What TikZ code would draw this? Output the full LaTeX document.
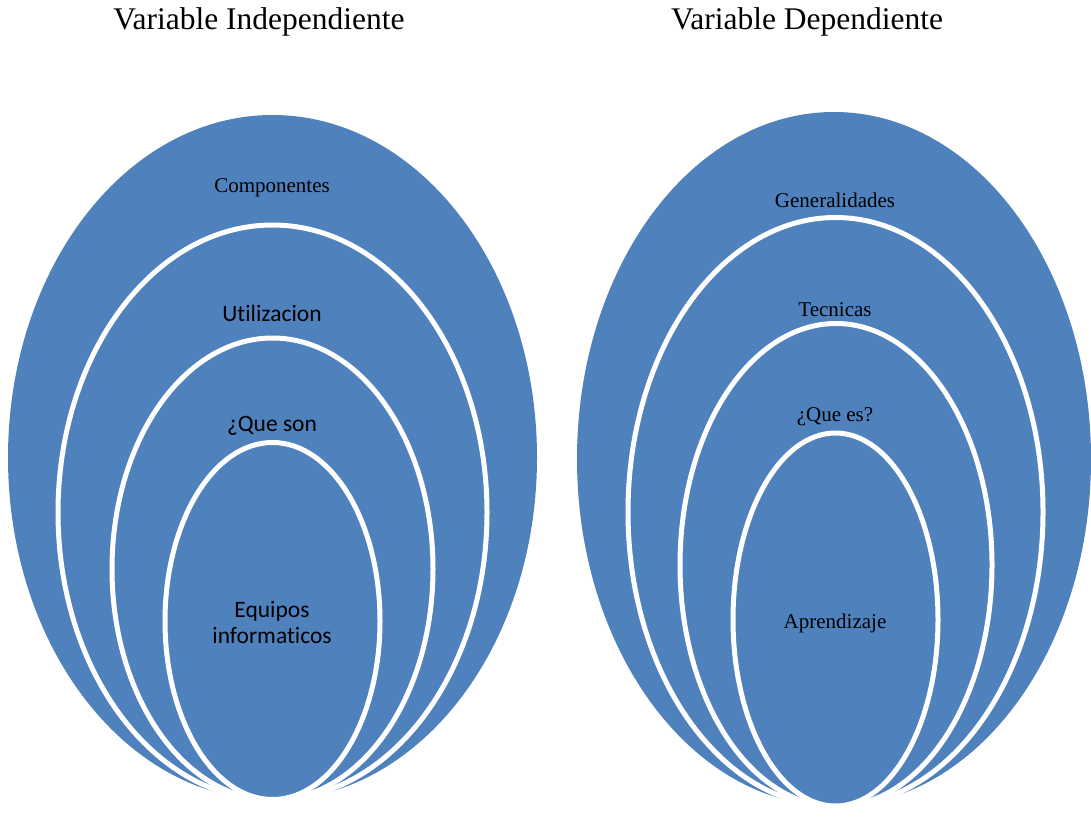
\documentclass[tikz,border=0pt]{standalone}
\usepackage{fontspec}
\setmainfont{Liberation Serif}
\newfontfamily\calibri[Ligatures=NoCommon]{Carlito}
\usetikzlibrary{shapes.geometric}
\definecolor{ovalblue}{HTML}{4F81BD}
\tikzset{
  ring/.style={ellipse, fill=ovalblue, draw=white, line width=5pt, inner sep=0pt},
  outerring/.style={ellipse, fill=ovalblue, draw=none, inner sep=0pt},
  lbl/.style={text=black, inner sep=0pt, align=center, font=\fontsize{21}{25}\selectfont},
  lblsans/.style={text=black, inner sep=0pt, align=center, font=\calibri\fontsize{23.5}{26}\selectfont},
  ttl/.style={text=black, inner sep=0pt, font=\fontsize{31.5}{36}\selectfont}
}
\begin{document}
\begin{tikzpicture}[x=1pt,y=-1pt]
\useasboundingbox (0,0) rectangle (1091,816);
% titles
\node[ttl] (t1) at (259,22) {Variable Independiente};
\node[ttl] (t2) at (807,22) {Variable Dependiente};
% left set
\node[outerring, minimum width=529pt, minimum height=685pt] (L1) at (272.5,457.5) {};
\node[ring, minimum width=429pt, minimum height=575pt] (L2) at (272.5,512.5) {};
\node[ring, minimum width=321pt, minimum height=462pt] (L3) at (272.5,569) {};
\node[ring, minimum width=215pt, minimum height=357pt] (L4) at (272.5,621) {};
\node[lbl] (l1) at (272,188) {Componentes};
\node[lblsans] (l2) at (272,313) {Utilizacion};
\node[lblsans] (l3) at (272,426) {¿Que son};
\node[lblsans] (l4) at (272,622) {Equipos\\informaticos};
% right set
\node[outerring, minimum width=514pt, minimum height=694pt] (R1) at (834,459) {};
\node[ring, minimum width=415pt, minimum height=589pt] (R2) at (835.5,512) {};
\node[ring, minimum width=312pt, minimum height=483pt] (R3) at (836,565) {};
\node[ring, minimum width=205pt, minimum height=373pt] (R4) at (835.5,619.5) {};
\node[lbl] (r1) at (835,200) {Generalidades};
\node[lbl] (r2) at (835,310) {Tecnicas};
\node[lbl] (r3) at (835,417) {¿Que es?};
\node[lbl] (r4) at (835,623) {Aprendizaje};
\end{tikzpicture}
\end{document}
